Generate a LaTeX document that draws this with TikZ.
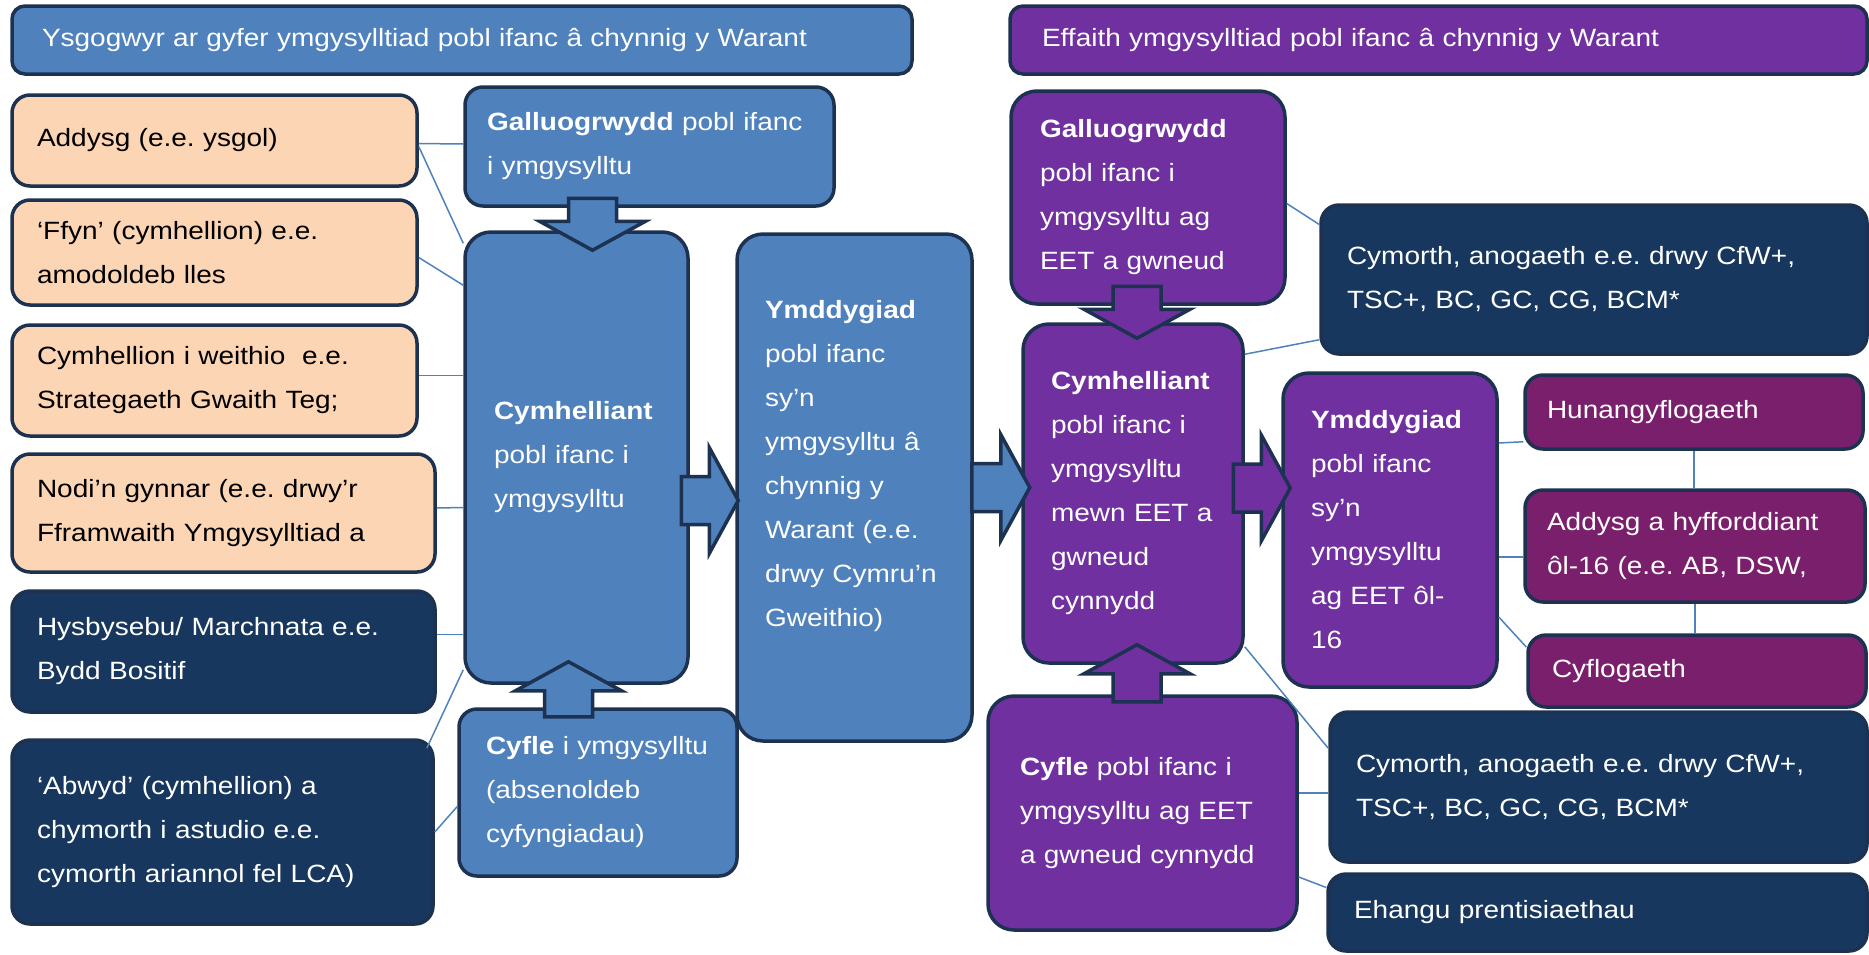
\documentclass[tikz,border=0pt]{standalone}
\usepackage{fontspec}
\setmainfont[FakeStretch=1.12]{Liberation Sans}
\usetikzlibrary{calc}
\frenchspacing

\definecolor{wgblue}{HTML}{4F81BD}
\definecolor{wgnavy}{HTML}{17375E}
\definecolor{wgpeach}{HTML}{FCD5B5}
\definecolor{wgpurple}{HTML}{7030A0}
\definecolor{wgplum}{HTML}{7A1F6C}
\definecolor{wgedge}{HTML}{1D3251}

\newcommand{\boxfont}{\fontsize{25}{44}\selectfont}
\newcommand{\lift}[1]{\par\vspace*{#1}}

% fat arrow from tail to tip
\newcommand{\blockarrow}[3][]{%
  \coordinate (ba-t) at (#2);
  \coordinate (ba-h) at (#3);
  \coordinate (ba-b) at ($(ba-h)!29pt!(ba-t)$);
  \draw[blockarr,#1] ($(ba-t)!24pt!90:(ba-h)$) -- ($(ba-b)!24pt!90:(ba-h)$)
    -- ($(ba-b)!53pt!90:(ba-h)$) -- (ba-h) -- ($(ba-b)!53pt!-90:(ba-h)$)
    -- ($(ba-b)!24pt!-90:(ba-h)$) -- ($(ba-t)!24pt!-90:(ba-h)$) -- cycle;
}

\tikzset{
  box/.style={draw=wgedge, line width=3.5pt, rounded corners=18pt, align=left,
    font=\boxfont, inner ysep=0pt},
  boxsize/.code n args={3}{\pgfmathsetmacro\boxtw{#1-2*#3}%
    \tikzset{minimum width=#1pt, minimum height=#2pt, inner xsep=#3pt, text width=\boxtw pt}},
  tall/.style={rounded corners=26pt},
  bluebox/.style={box, fill=wgblue, text=white},
  navybox/.style={box, fill=wgnavy, text=white},
  peachbox/.style={box, fill=wgpeach, text=black},
  purplebox/.style={box, fill=wgpurple, text=white},
  plumbox/.style={box, fill=wgplum, text=white},
  link/.style={draw=wgblue, line width=1.5pt},
  blockarr/.style={draw=wgedge, line width=3.5pt, line join=miter},
}

\begin{document}
\begin{tikzpicture}[x=1pt, y=1pt]
    \useasboundingbox (0,0) rectangle (1869,-954);

    % headings
    \node[bluebox, rounded corners=13pt, boxsize={900}{68}{30}] (titleL) at (462,-40) {Ysgogwyr ar gyfer ymgysylltiad pobl ifanc â chynnig y Warant};
    \node[purplebox, rounded corners=13pt, boxsize={857}{68}{32}] (titleR) at (1438.5,-40) {Effaith ymgysylltiad pobl ifanc â chynnig y Warant};

    % drivers
    \node[peachbox, boxsize={405}{91}{25}] (addysg) at (214.5,-140.5) {Addysg (e.e. ysgol)};
    \node[peachbox, boxsize={405}{105}{25}] (ffyn) at (214.5,-252.5) {‘Ffyn’ (cymhellion) e.e.\\ amodoldeb lles};
    \node[peachbox, boxsize={405}{111}{25}] (cymhellion) at (214.5,-380.5) {Cymhellion i weithio\ \ e.e.\\ Strategaeth Gwaith Teg;};
    \node[peachbox, boxsize={423}{118}{25}] (nodi) at (223.5,-513) {Nodi'n gynnar (e.e. drwy'r\\ Fframwaith Ymgysylltiad a};
    \node[navybox, boxsize={423}{121}{25}] (hysbys) at (223.5,-651.5) {Hysbysebu/ Marchnata e.e.\\ Bydd Bositif};
    \node[navybox, boxsize={421}{184}{25}] (abwyd) at (222.5,-832) {‘Abwyd’ (cymhellion) a\\ chymorth i astudio e.e.\\ cymorth ariannol fel LCA)};

    % blue column
    \node[bluebox, boxsize={369}{119}{22}] (gallu) at (649.5,-146.5) {\textbf{Galluogrwydd} pobl ifanc\\ i ymgysylltu};
    \node[bluebox, tall, boxsize={223}{451}{29}] (cymh) at (576.5,-457.5) {\textbf{Cymhelliant}\\ pobl ifanc i\\ ymgysylltu};
    \node[bluebox, tall, boxsize={235}{507}{28}] (ymdd) at (854.5,-487.5) {\textbf{Ymddygiad}\\ pobl ifanc\\ sy'n\\ ymgysylltu â\\ chynnig y\\ Warant (e.e.\\ drwy Cymru'n\\ Gweithio)\lift{42pt}};
    \node[bluebox, boxsize={278}{167}{27}] (cyfle) at (598,-792.5) {\textbf{Cyfle} i ymgysylltu\\ (absenoldeb\\ cyfyngiadau)};

    % purple column
    \node[purplebox, tall, boxsize={274}{213}{29}] (gallu2) at (1148,-197.5) {\textbf{Galluogrwydd}\\ pobl ifanc i\\ ymgysylltu ag\\ EET a gwneud};
    \node[purplebox, tall, boxsize={220}{339}{28}] (cymh2) at (1133,-493.5) {\textbf{Cymhelliant}\\ pobl ifanc i\\ ymgysylltu\\ mewn EET a\\ gwneud\\ cynnydd};
    \node[purplebox, tall, boxsize={214}{314}{28}] (ymdd2) at (1390,-530) {\textbf{Ymddygiad}\\ pobl ifanc\\ sy'n\\ ymgysylltu\\ ag EET ôl-\\ 16};
    \node[purplebox, tall, boxsize={309}{234}{32}] (cyfle2) at (1142.5,-813) {\textbf{Cyfle} pobl ifanc i\\ ymgysylltu ag EET\\ a gwneud cynnydd};

    % support and outcomes
    \node[navybox, boxsize={546}{149}{26}] (cym1) at (1594,-279.5) {Cymorth, anogaeth e.e. drwy CfW+,\\ TSC+, BC, GC, CG, BCM*};
    \node[navybox, boxsize={537}{150}{26}] (cym2) at (1598.5,-787) {Cymorth, anogaeth e.e. drwy CfW+,\\ TSC+, BC, GC, CG, BCM*};
    \node[navybox, boxsize={539}{77}{26}] (ehangu) at (1597.5,-912.5) {Ehangu prentisiaethau};
    \node[plumbox, boxsize={338}{74}{22}] (hunan) at (1694,-412) {Hunangyflogaeth};
    \node[plumbox, boxsize={340}{112}{22}] (addhyf) at (1695,-546) {Addysg a hyfforddiant\\ ôl-16 (e.e. AB, DSW,};
    \node[plumbox, boxsize={338}{72}{24}] (cyflog) at (1697,-671) {Cyflogaeth};

    % thin links
    \draw[link] ([yshift=-3pt]addysg.east) -- ([yshift=2.5pt]gallu.west);
    \draw[link] ([yshift=-6pt]addysg.east) -- ([yshift=-13pt]cymh.north west);
    \draw[link] ([yshift=-5pt]ffyn.east) -- ([yshift=-55pt]cymh.north west);
    \draw[link] ([yshift=5pt]cymhellion.east) -- ([yshift=82pt]cymh.west);
    \draw[link] ([yshift=5pt]nodi.east) -- ([yshift=-50pt]cymh.west);
    \draw[link] ([yshift=17pt]hysbys.east) -- ([yshift=-177pt]cymh.west);
    \draw[link] ([xshift=-8pt,yshift=-10pt]abwyd.north east) -- ([yshift=15pt]cymh.south west);
    \draw[link] (abwyd.east) -- ([yshift=-14pt]cyfle.west);
    \draw[link] ([yshift=-6pt]gallu2.east) -- ([yshift=55pt]cym1.west);
    \draw[link] ([yshift=-32pt]cymh2.north east) -- ([yshift=16pt]cym1.south west);
    \draw[link] ([yshift=87pt]ymdd2.east) -- ([yshift=9pt]hunan.south west);
    \draw[link] ([yshift=-27pt]ymdd2.east) -- ([yshift=-11pt]addhyf.west);
    \draw[link] ([yshift=-87pt]ymdd2.east) -- ([yshift=24pt]cyflog.west);
    \draw[link] (hunan.south) -- (hunan.south |- addhyf.north);
    \draw[link] (addhyf.south) -- (addhyf.south |- cyflog.north);
    \draw[link] ([yshift=18pt]cymh2.south east) -- ([yshift=-38pt]cym2.north west);
    \draw[link] ([yshift=20pt]cyfle2.east) -- ([yshift=-6pt]cym2.west);
    \draw[link] ([yshift=-64pt]cyfle2.east) -- ([yshift=25pt]ehangu.west);

    % fat arrows
    \blockarrow[fill=wgblue]{[xshift=16pt,yshift=32pt]cymh.north}{[xshift=16pt,yshift=-20pt]cymh.north}
    \blockarrow[fill=wgblue]{[xshift=-8pt,yshift=-32pt]cymh.south}{[xshift=-8pt,yshift=23pt]cymh.south}
    \blockarrow[fill=wgblue]{[xshift=-54pt,yshift=-13pt]ymdd.west}{[xshift=3pt,yshift=-13pt]ymdd.west}
    \blockarrow[fill=wgblue]{[xshift=-2pt]ymdd.east}{[xshift=56pt]ymdd.east}
    \blockarrow[fill=wgpurple]{[xshift=-48pt,yshift=42pt]ymdd2.west}{[xshift=9pt,yshift=42pt]ymdd2.west}
    \blockarrow[fill=wgpurple]{[xshift=4pt,yshift=36pt]cymh2.north}{[xshift=4pt,yshift=-16pt]cymh2.north}
    \blockarrow[fill=wgpurple]{[xshift=4pt,yshift=-37pt]cymh2.south}{[xshift=4pt,yshift=20pt]cymh2.south}
\end{tikzpicture}
\end{document}
